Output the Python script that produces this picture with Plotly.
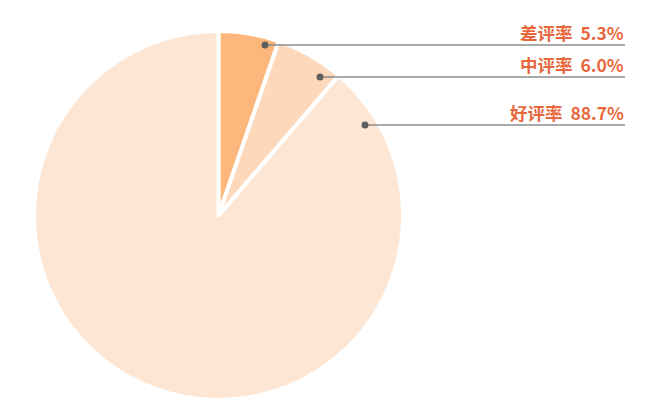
import plotly.graph_objects as go

categories = ["差评率", "中评率", "好评率"]
values = [5.3, 6.0, 88.7]
colors = ["#FDB77C", "#FDD8BA", "#FDE6D3"]
label_texts = [f"{c}&nbsp;&nbsp;{v:.1f}%" for c, v in zip(categories, values)]

W, H = 650, 411
OFF = 8  # page body margin
# pie placement in page pixels
cx, cy, R = 218.5, 215.5, 184.5

fig = go.Figure()
fig.add_trace(go.Pie(
    labels=categories, values=values, sort=False, direction="clockwise",
    rotation=0, marker=dict(colors=colors, line=dict(color="white", width=4)),
    textinfo="none", hoverinfo="label+percent", showlegend=False,
    domain=dict(x=[(cx - OFF - R) / W, (cx - OFF + R) / W],
                y=[1 - (cy - OFF + R) / H, 1 - (cy - OFF - R) / H]),
))

# leader lines: dot position (page pixel); lines end at x=625
dots = [(265, 45), (320, 77), (365, 125)]
x_end = 625
shapes = []
for (dx, dy), txt in zip(dots, label_texts):
    shapes.append(dict(type="line", xref="x", yref="y", x0=dx, x1=x_end, y0=dy, y1=dy,
                       line=dict(color="#8c8c8c", width=1.5), layer="above"))
    shapes.append(dict(type="circle", xref="x", yref="y", x0=dx - 3.5, x1=dx + 3.5,
                       y0=dy - 3.5, y1=dy + 3.5, fillcolor="#5f5f5f",
                       line=dict(width=0), layer="above"))
    fig.add_annotation(
        x=x_end + 1, y=dy + 2, xref="x", yref="y", text=f"<b>{txt}</b>", showarrow=False,
        xanchor="right", yanchor="bottom",
        font=dict(family="Noto Sans CJK SC", size=17.5, color="#E8673D"))

fig.update_layout(
    width=W, height=H, margin=dict(l=0, r=0, t=0, b=0),
    paper_bgcolor="white", plot_bgcolor="rgba(0,0,0,0)",
    xaxis=dict(range=[OFF, W + OFF], visible=False, fixedrange=True),
    yaxis=dict(range=[H + OFF, OFF], visible=False, fixedrange=True),
    shapes=shapes,
)
fig.write_html("out.html")
